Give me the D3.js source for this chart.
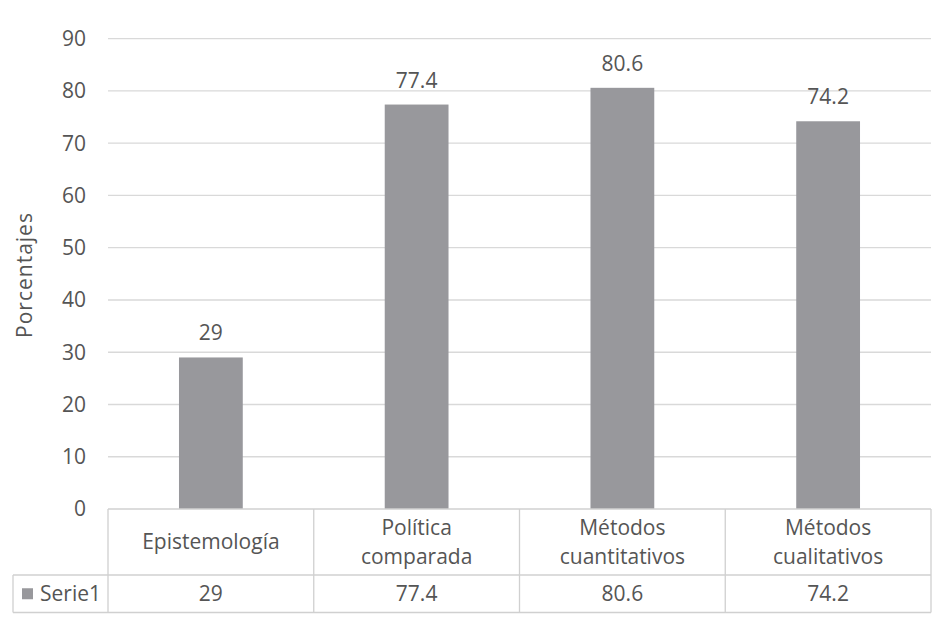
<!DOCTYPE html>
<html>
<head>
<meta charset="utf-8">
<script src="https://cdn.jsdelivr.net/npm/d3@7"></script>
<style>
  body { margin: 0; background: #fff; }
  text { font-family: "Open Sans", sans-serif; fill: #555555; }
</style>
</head>
<body>
<div id="chart"></div>
<script>
// data
var categories = [["Epistemología"], ["Política", "comparada"], ["Métodos", "cuantitativos"], ["Métodos", "cualitativos"]];
var values = [29, 77.4, 80.6, 74.2];
var valueLabels = ["29", "77.4", "80.6", "74.2"];
var yTicks = [0, 10, 20, 30, 40, 50, 60, 70, 80, 90];
var seriesName = "Serie1";

var width = 949, height = 623;
var plot = { left: 108, right: 931, top: 38.7, bottom: 509 };
var tableMid = 575, tableBottom = 612.5, tableLeft = 13;
var barColor = "#98989c";
var fontSize = 21;

var svg = d3.select("#chart").append("svg")
    .attr("width", width)
    .attr("height", height);

var keys = d3.range(categories.length);

var xScale = d3.scaleBand()
    .domain(keys)
    .range([plot.left, plot.right])
    .paddingInner(0.69)
    .paddingOuter(0.345);

// table columns, one per category
var colScale = d3.scaleBand()
    .domain(keys)
    .range([plot.left, plot.right]);

var yScale = d3.scaleLinear()
    .domain([0, 90])
    .range([plot.bottom, plot.top]);

// gridlines
svg.append("g")
    .selectAll("line")
    .data(yTicks.slice(1))
    .enter()
    .append("line")
    .attr("x1", plot.left)
    .attr("x2", plot.right)
    .attr("y1", function(d) { return yScale(d); })
    .attr("y2", function(d) { return yScale(d); })
    .attr("stroke", "#d9d9d9")
    .attr("stroke-width", 1.3);

// y axis labels
svg.append("g")
    .selectAll("text")
    .data(yTicks)
    .enter()
    .append("text")
    .attr("x", 86)
    .attr("y", function(d) { return yScale(d); })
    .attr("dy", "0.35em")
    .attr("text-anchor", "end")
    .style("font-size", fontSize + "px")
    .text(function(d) { return d; });

svg.append("text")
    .attr("transform", "translate(25," + 275 + ") rotate(-90)")
    .attr("dy", "0.35em")
    .attr("text-anchor", "middle")
    .style("font-size", fontSize + "px")
    .style("letter-spacing", "1px")
    .text("Porcentajes");

// bars
svg.append("g")
    .selectAll("rect")
    .data(keys)
    .enter()
    .append("rect")
    .attr("x", function(i) { return xScale(i); })
    .attr("width", xScale.bandwidth())
    .attr("y", function(i) { return yScale(values[i]); })
    .attr("height", function(i) { return yScale(0) - yScale(values[i]); })
    .attr("fill", barColor);

// value labels
svg.append("g")
    .selectAll("text")
    .data(keys)
    .enter()
    .append("text")
    .attr("x", function(i) { return xScale(i) + xScale.bandwidth() / 2; })
    .attr("y", function(i) { return yScale(values[i]) - 17; })
    .attr("text-anchor", "middle")
    .style("font-size", fontSize + "px")
    .text(function(i) { return valueLabels[i]; });

// data table
var grid = svg.append("g")
    .attr("stroke", "#d0d0d0")
    .attr("stroke-width", 1.3)
    .attr("fill", "none");

grid.append("line").attr("x1", plot.left).attr("x2", plot.right).attr("y1", plot.bottom).attr("y2", plot.bottom);
grid.append("line").attr("x1", tableLeft).attr("x2", plot.right).attr("y1", tableMid).attr("y2", tableMid);
grid.append("line").attr("x1", tableLeft).attr("x2", plot.right).attr("y1", tableBottom).attr("y2", tableBottom);
grid.append("line").attr("x1", tableLeft).attr("x2", tableLeft).attr("y1", tableMid).attr("y2", tableBottom);

grid.selectAll(".col")
    .data(keys.concat([categories.length]))
    .enter()
    .append("line")
    .attr("x1", function(i) { return i < categories.length ? colScale(i) : plot.right; })
    .attr("x2", function(i) { return i < categories.length ? colScale(i) : plot.right; })
    .attr("y1", plot.bottom)
    .attr("y2", tableBottom);

// category labels
var lineH = 29;
svg.append("g")
    .selectAll("text")
    .data(keys)
    .enter()
    .append("text")
    .attr("text-anchor", "middle")
    .style("font-size", fontSize + "px")
    .each(function(i) {
        var lines = categories[i];
        var cy = (plot.bottom + tableMid) / 2;
        var y0 = cy - (lines.length - 1) * lineH / 2;
        var t = d3.select(this);
        lines.forEach(function(l, j) {
            t.append("tspan")
                .attr("x", colScale(i) + colScale.bandwidth() / 2)
                .attr("y", y0 + j * lineH)
                .attr("dy", "0.35em")
                .text(l);
        });
    });

// series row
svg.append("g")
    .selectAll("text")
    .data(keys)
    .enter()
    .append("text")
    .attr("x", function(i) { return colScale(i) + colScale.bandwidth() / 2; })
    .attr("y", (tableMid + tableBottom) / 2)
    .attr("dy", "0.35em")
    .attr("text-anchor", "middle")
    .style("font-size", fontSize + "px")
    .text(function(i) { return valueLabels[i]; });

svg.append("rect")
    .attr("x", 22)
    .attr("y", (tableMid + tableBottom) / 2 - 5.5)
    .attr("width", 11)
    .attr("height", 11)
    .attr("fill", barColor);

svg.append("text")
    .attr("x", 40)
    .attr("y", (tableMid + tableBottom) / 2)
    .attr("dy", "0.35em")
    .style("font-size", fontSize + "px")
    .text(seriesName);
</script>
</body>
</html>
